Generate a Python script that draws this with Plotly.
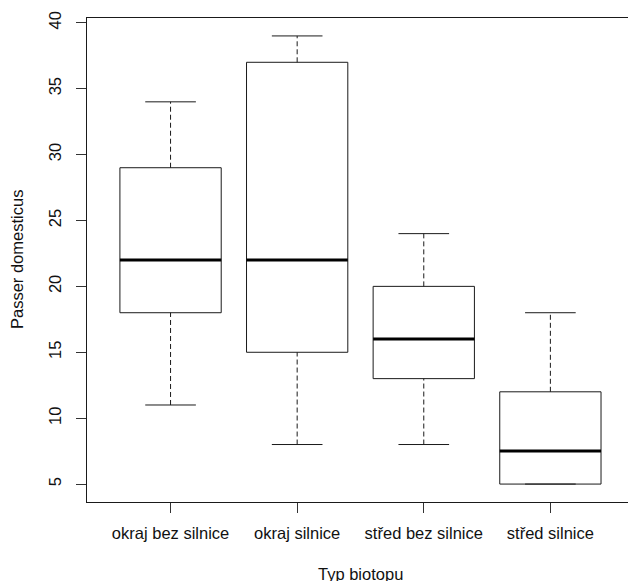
import plotly.graph_objects as go

categories = ["okraj bez silnice", "okraj silnice", "střed bez silnice", "střed silnice"]
lower_whisker = [11, 8, 8, 5]
q1 = [18, 15, 13, 5]
median = [22, 22, 16, 7.5]
q3 = [29, 37, 20, 12]
upper_whisker = [34, 39, 24, 18]
y_ticks = [5, 10, 15, 20, 25, 30, 35, 40]

BOX_HALF = 0.4
CAP_HALF = 0.2
FONT = "Liberation Sans, Arial, sans-serif"
FS = 16.5
LINE = "#1a1a1a"

fig = go.Figure()

xs = list(range(1, len(categories) + 1))

# whiskers (dashed)
wx, wy = [], []
for x, lo, a, b, hi in zip(xs, lower_whisker, q1, q3, upper_whisker):
    wx += [x, x, None, x, x, None]
    wy += [lo, a, None, b, hi, None]
fig.add_trace(go.Scatter(x=wx, y=wy, mode="lines",
                         line=dict(color=LINE, width=1, dash="5px,3px"),
                         hoverinfo="skip", showlegend=False))

# staples
cx, cy = [], []
for x, lo, hi in zip(xs, lower_whisker, upper_whisker):
    cx += [x - CAP_HALF, x + CAP_HALF, None, x - CAP_HALF, x + CAP_HALF, None]
    cy += [lo, lo, None, hi, hi, None]
fig.add_trace(go.Scatter(x=cx, y=cy, mode="lines",
                         line=dict(color=LINE, width=1),
                         hoverinfo="skip", showlegend=False))

# boxes
bx, by = [], []
for x, a, b in zip(xs, q1, q3):
    bx += [x - BOX_HALF, x + BOX_HALF, x + BOX_HALF, x - BOX_HALF, x - BOX_HALF, None]
    by += [a, a, b, b, a, None]
fig.add_trace(go.Scatter(x=bx, y=by, mode="lines",
                         line=dict(color=LINE, width=1),
                         hoverinfo="skip", showlegend=False))

# medians
mx, my = [], []
for x, m in zip(xs, median):
    mx += [x - BOX_HALF, x + BOX_HALF, None]
    my += [m, m, None]
fig.add_trace(go.Scatter(x=mx, y=my, mode="lines",
                         line=dict(color="black", width=3),
                         hoverinfo="skip", showlegend=False))

fig.update_layout(
    width=628, height=581, autosize=False,
    margin=dict(l=87, r=0, t=18, b=79),
    paper_bgcolor="white", plot_bgcolor="white",
    font=dict(family=FONT, size=FS, color="#111111"),
    xaxis=dict(
        range=[0.34, 4.613],
        tickmode="array", tickvals=xs, ticktext=categories,
        showgrid=False, zeroline=False,
        showline=True, mirror=True, linecolor=LINE, linewidth=1,
        ticks="outside", ticklen=10, tickcolor="#333333",
        ticklabelstandoff=6,
        tickfont=dict(family=FONT, size=FS),
    ),
    yaxis=dict(
        range=[3.64, 40.36],
        tickmode="array", tickvals=y_ticks,
        tickangle=-90,
        showgrid=False, zeroline=False,
        showline=True, mirror=False, linecolor=LINE, linewidth=1,
        ticks="outside", ticklen=10, tickcolor="#333333",
        ticklabelstandoff=8,
        tickfont=dict(family=FONT, size=FS),
    ),
    annotations=[
        dict(text="Passer domesticus", xref="paper", yref="paper",
             x=0, y=0.5, xanchor="center", yanchor="middle",
             xshift=-70, textangle=-90, showarrow=False,
             font=dict(family=FONT, size=FS)),
        dict(text="Typ biotopu", xref="x", yref="paper",
             x=2.5, y=0, xanchor="center", yanchor="top",
             yshift=-61, showarrow=False,
             font=dict(family=FONT, size=FS)),
    ],
)

fig.write_html("out.html")
